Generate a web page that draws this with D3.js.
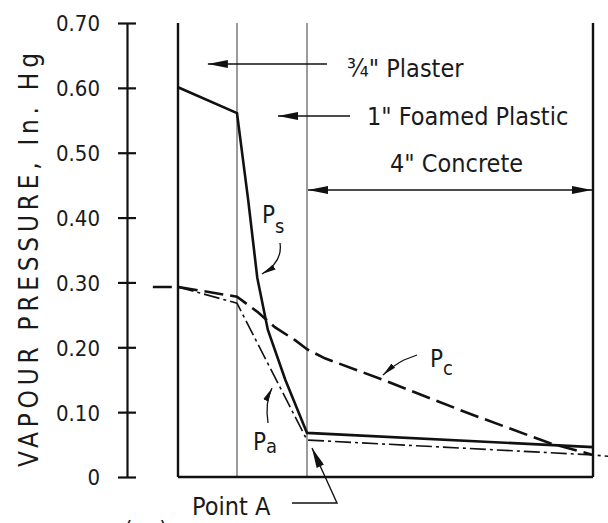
<!DOCTYPE html>
<html>
<head>
<meta charset="utf-8">
<script src="https://cdn.jsdelivr.net/npm/d3@7"></script>
<style>
  html, body { margin: 0; padding: 0; background: #fff; }
  svg text { font-family: "DejaVu Sans Condensed", "Liberation Sans Narrow", "DejaVu Sans", sans-serif; fill: #1a1a1a; }
</style>
</head>
<body>
<div id="chart"></div>
<script>
// wall layers, thickness measured from the inside surface (in.)
const layerEdges = [0, 0.75, 1.75, 5.75];
const yTicks = [0, 0.1, 0.2, 0.3, 0.4, 0.5, 0.6, 0.7];

// Ps: saturation vapour pressure
const psX = [0, 0.75, 0.91, 1.04, 1.19, 1.44, 1.75, 5.75];
const psY = [0.601, 0.561, 0.427, 0.307, 0.227, 0.150, 0.068, 0.046];
// Pa: actual vapour pressure
const paX = [0, 0.75, 1.75, 5.75, 5.96];
const paY = [0.293, 0.268, 0.057, 0.034, 0.032];
// Pc: calculated vapour pressure
const pcX = [-0.32, 0, 0.75, 1.05, 1.29, 1.58, 1.75, 2.0, 2.81, 3.99, 5.15, 5.75];
const pcY = [0.293, 0.293, 0.278, 0.254, 0.231, 0.211, 0.197, 0.183, 0.150, 0.099, 0.052, 0.034];

const width = 608;
const height = 523;

const svg = d3.select("#chart")
    .append("svg")
    .attr("width", width)
    .attr("height", height);

const x = d3.scaleLinear()
    .domain(layerEdges)
    .range([178, 237, 307, 593]);

const y = d3.scaleLinear()
    .domain([0, 0.7])
    .range([477, 23]);

const defs = svg.append("defs");
function marker(id, w, h) {
    defs.append("marker")
        .attr("id", id)
        .attr("viewBox", "0 0 10 4")
        .attr("refX", 10)
        .attr("refY", 2)
        .attr("markerUnits", "userSpaceOnUse")
        .attr("markerWidth", w)
        .attr("markerHeight", h)
        .attr("orient", "auto-start-reverse")
        .append("path")
        .attr("d", "M0,0 L10,2 L0,4 Z")
        .attr("fill", "#111");
}
marker("arrBig", 24, 8);
marker("arrSmall", 14, 6);

// y axis with ticks crossing the line
const yAxis = d3.axisLeft(y)
    .tickValues(yTicks)
    .tickSizeInner(9)
    .tickSizeOuter(0)
    .tickPadding(18)
    .tickFormat(d => d === 0 ? "0" : d3.format(".2f")(d));

const gy = svg.append("g")
    .attr("transform", "translate(127,0)")
    .call(yAxis);
gy.select(".domain").attr("stroke", "#111").attr("stroke-width", 2.2);
gy.selectAll(".tick line").attr("x1", 9).attr("x2", -9).attr("stroke", "#111").attr("stroke-width", 2.2);
gy.selectAll(".tick text")
    .attr("font-size", 22)
    .attr("dy", "0.36em")
    .style("font-family", '"DejaVu Sans Condensed", "DejaVu Sans", sans-serif')
    .attr("fill", "#1a1a1a");

svg.append("text")
    .attr("transform", "translate(38,260) rotate(-90)")
    .attr("text-anchor", "middle")
    .attr("font-size", 26)
    .attr("textLength", 414)
    .attr("lengthAdjust", "spacing")
    .text("VAPOUR PRESSURE, In. Hg");

// wall layers
svg.selectAll(".wall")
    .data(layerEdges)
    .enter()
    .append("line")
    .attr("class", "wall")
    .attr("x1", d => x(d))
    .attr("x2", d => x(d))
    .attr("y1", y(0))
    .attr("y2", y(0.7))
    .attr("stroke", (d, i) => (i === 0 || i === layerEdges.length - 1) ? "#111" : "#666")
    .attr("stroke-width", (d, i) => (i === 0 || i === layerEdges.length - 1) ? 2.4 : 1.3);

svg.append("line")
    .attr("x1", x(layerEdges[0]))
    .attr("x2", x(layerEdges[layerEdges.length - 1]))
    .attr("y1", y(0))
    .attr("y2", y(0))
    .attr("stroke", "#111")
    .attr("stroke-width", 2.4);

// curves
const line = d3.line()
    .x(d => x(d[0]))
    .y(d => y(d[1]));

svg.append("path")
    .datum(d3.zip(pcX, pcY))
    .attr("d", line)
    .attr("fill", "none")
    .attr("stroke", "#111")
    .attr("stroke-width", 2.6)
    .attr("stroke-dasharray", "19,7");

svg.append("path")
    .datum(d3.zip(paX, paY))
    .attr("d", line)
    .attr("fill", "none")
    .attr("stroke", "#111")
    .attr("stroke-width", 1.6)
    .attr("stroke-dasharray", "16,4,3,4");

svg.append("path")
    .datum(d3.zip(psX, psY))
    .attr("d", line)
    .attr("fill", "none")
    .attr("stroke", "#111")
    .attr("stroke-width", 2.6);

// layer labels and arrows
const ann = svg.append("g");

ann.append("line")
    .attr("x1", 327).attr("y1", 64)
    .attr("x2", x(0.38)).attr("y2", 64)
    .attr("stroke", "#111").attr("stroke-width", 1.6)
    .attr("marker-end", "url(#arrBig)");
ann.append("text")
    .attr("x", 347).attr("y", 77)
    .attr("font-size", 25)
    .text("\u00BE\" Plaster");

ann.append("line")
    .attr("x1", 350).attr("y1", 116)
    .attr("x2", 278).attr("y2", 116)
    .attr("stroke", "#111").attr("stroke-width", 1.6)
    .attr("marker-end", "url(#arrBig)");
ann.append("text")
    .attr("x", 367).attr("y", 125)
    .attr("font-size", 25)
    .text("1\" Foamed Plastic");

ann.append("line")
    .attr("x1", x(1.75) + 1).attr("y1", 190)
    .attr("x2", x(5.75) - 1).attr("y2", 190)
    .attr("stroke", "#111").attr("stroke-width", 1.6)
    .attr("marker-start", "url(#arrBig)")
    .attr("marker-end", "url(#arrBig)");
ann.append("text")
    .attr("x", 390).attr("y", 172)
    .attr("font-size", 25)
    .text("4\" Concrete");

// curve labels
function subLabel(px, py, sub, sdy) {
    const t = ann.append("text").attr("x", px).attr("y", py).attr("font-size", 24);
    t.append("tspan").text("P");
    t.append("tspan").attr("dy", sdy).attr("font-size", 20).text(sub);
}
subLabel(262, 223, "s", 10);
subLabel(430, 367, "c", 8);
subLabel(253, 450, "a", 3);

ann.append("path")
    .attr("d", "M280,243 C282,256 276,266 262,274")
    .attr("fill", "none").attr("stroke", "#111").attr("stroke-width", 1.3)
    .attr("marker-end", "url(#arrSmall)");
ann.append("path")
    .attr("d", "M417,355 L404,360 Q394,365 383,375")
    .attr("fill", "none").attr("stroke", "#111").attr("stroke-width", 1.3)
    .attr("marker-end", "url(#arrSmall)");
ann.append("path")
    .attr("d", "M268,423 C266,410 267,398 272,388")
    .attr("fill", "none").attr("stroke", "#111").attr("stroke-width", 1.3)
    .attr("marker-end", "url(#arrSmall)");

ann.append("text")
    .attr("x", 192).attr("y", 515)
    .attr("font-size", 25)
    .text("Point A");
ann.append("path")
    .attr("d", `M292,503 L337,503 L${x(1.75) + 5},${y(0.057) + 8}`)
    .attr("fill", "none").attr("stroke", "#111").attr("stroke-width", 1.4)
    .attr("marker-end", "url(#arrBig)");

ann.append("text")
    .attr("x", 124).attr("y", 539)
    .attr("font-size", 24)
    .text("( a )");
</script>
</body>
</html>
